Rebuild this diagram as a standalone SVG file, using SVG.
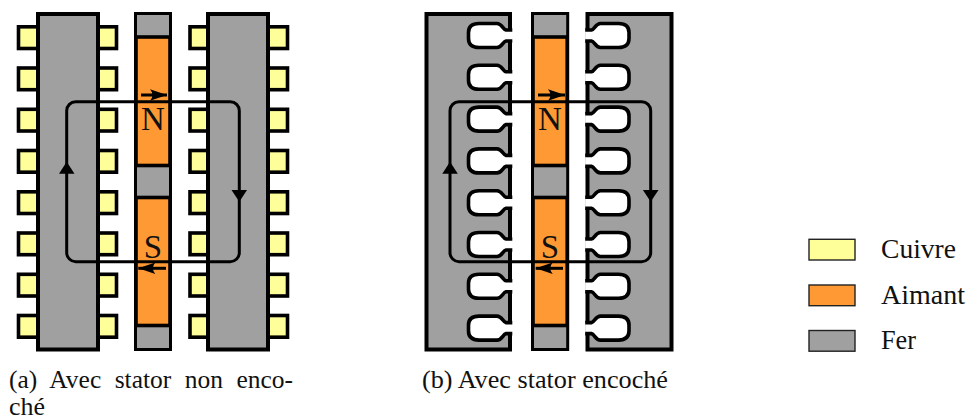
<svg xmlns="http://www.w3.org/2000/svg" xmlns:xlink="http://www.w3.org/1999/xlink" width="967" height="419" viewBox="0 0 967 419">
<style>
.iron{fill:#a0a0a0;stroke:#000;stroke-width:4}
.cu{fill:#ffff99;stroke:#000;stroke-width:3.6}
.mag{fill:#ff9933;stroke:#000;stroke-width:3.6}
.col{fill:#a0a0a0;stroke:#000;stroke-width:3}
.slot{fill:#fff;stroke:#000;stroke-width:3.6}
.loop{fill:none;stroke:#000;stroke-width:3}
.flux{fill:none;stroke:#000;stroke-width:3;marker-end:url(#st)}
.head{fill:#000}
.pole{font-family:"Liberation Serif",serif;font-size:33px;text-anchor:middle;fill:#111}
.cap{font-family:"Liberation Serif",serif;font-size:25px;fill:#111}
.leg{font-family:"Liberation Serif",serif;font-size:27px;fill:#111}
.sw{stroke:#222;stroke-width:1.4}
</style>
<defs>
<marker id="st" markerUnits="userSpaceOnUse" markerWidth="20" markerHeight="16" refX="17" refY="6" orient="auto" overflow="visible"><path d="M17 6 L0 0.2 Q5 6 0 11.8 Z" fill="#000"/></marker>
<rect id="tooth" width="19.5" height="21.7" x="0" y="0" class="cu"/>
<path id="sl" class="slot" d="M2.3 -5.5H-4C-7 -6 -8 -12 -13 -12H-31Q-41.5 -12 -41.5 -3V3Q-41.5 12 -31 12H-13C-8 12 -7 6 -4 5.5H2.3"/>
</defs>

<g id="panel-a">
<g id="a-copper">
<use href="#tooth" x="18.5" y="26.8"/><use href="#tooth" x="18.5" y="68"/><use href="#tooth" x="18.5" y="109.3"/><use href="#tooth" x="18.5" y="150.5"/><use href="#tooth" x="18.5" y="191.8"/><use href="#tooth" x="18.5" y="233"/><use href="#tooth" x="18.5" y="274.3"/><use href="#tooth" x="18.5" y="315.5"/>
<use href="#tooth" x="97" y="26.8"/><use href="#tooth" x="97" y="68"/><use href="#tooth" x="97" y="109.3"/><use href="#tooth" x="97" y="150.5"/><use href="#tooth" x="97" y="191.8"/><use href="#tooth" x="97" y="233"/><use href="#tooth" x="97" y="274.3"/><use href="#tooth" x="97" y="315.5"/>
<use href="#tooth" x="190" y="26.8"/><use href="#tooth" x="190" y="68"/><use href="#tooth" x="190" y="109.3"/><use href="#tooth" x="190" y="150.5"/><use href="#tooth" x="190" y="191.8"/><use href="#tooth" x="190" y="233"/><use href="#tooth" x="190" y="274.3"/><use href="#tooth" x="190" y="315.5"/>
<use href="#tooth" x="268" y="26.8"/><use href="#tooth" x="268" y="68"/><use href="#tooth" x="268" y="109.3"/><use href="#tooth" x="268" y="150.5"/><use href="#tooth" x="268" y="191.8"/><use href="#tooth" x="268" y="233"/><use href="#tooth" x="268" y="274.3"/><use href="#tooth" x="268" y="315.5"/>
</g>
<g id="a-iron-left"><rect class="iron" x="38" y="14" width="60" height="335.5"/></g>
<g id="a-iron-right"><rect class="iron" x="208" y="14" width="60" height="335.5"/></g>
<g id="a-rotor">
<rect class="col" x="135.5" y="13.5" width="35" height="336"/>
<rect class="mag" x="136" y="37" width="34" height="128.5"/>
<rect class="mag" x="136" y="197.5" width="34" height="128"/>
<text class="pole" x="153" y="129.5">N</text>
<text class="pole" x="153" y="257.5">S</text>
</g>
</g>

<g id="panel-b">
<g id="b-iron-left">
<rect class="iron" x="426.5" y="14" width="83.5" height="335.5"/>
<use href="#sl" x="510" y="35.5"/><use href="#sl" x="510" y="77.3"/><use href="#sl" x="510" y="119.1"/><use href="#sl" x="510" y="160.9"/><use href="#sl" x="510" y="202.7"/><use href="#sl" x="510" y="244.5"/><use href="#sl" x="510" y="286.3"/><use href="#sl" x="510" y="328.1"/>
</g>
<g id="b-iron-right">
<rect class="iron" x="587.5" y="14" width="84" height="335.5"/>
<use href="#sl" transform="translate(587.5 35.5) scale(-1 1)"/><use href="#sl" transform="translate(587.5 77.3) scale(-1 1)"/><use href="#sl" transform="translate(587.5 119.1) scale(-1 1)"/><use href="#sl" transform="translate(587.5 160.9) scale(-1 1)"/><use href="#sl" transform="translate(587.5 202.7) scale(-1 1)"/><use href="#sl" transform="translate(587.5 244.5) scale(-1 1)"/><use href="#sl" transform="translate(587.5 286.3) scale(-1 1)"/><use href="#sl" transform="translate(587.5 328.1) scale(-1 1)"/>
</g>
<g id="b-rotor">
<rect class="col" x="532.5" y="13.5" width="35.2" height="336"/>
<rect class="mag" x="533" y="37" width="34.2" height="128.5"/>
<rect class="mag" x="533" y="197.5" width="34.2" height="128"/>
<text class="pole" x="550" y="129.5">N</text>
<text class="pole" x="550" y="257.5">S</text>
</g>
</g>

<g id="connectors">
<rect class="loop" x="66.7" y="101.7" width="172.6" height="160" rx="9"/>
<path class="head" d="M66.7 161.7L74.5 173.7H59Z"/>
<path class="head" d="M239.3 201.7L231.5 190H247Z"/>
<line class="flux" x1="141" y1="95" x2="167" y2="95"/>
<line class="flux" x1="166" y1="268.3" x2="138.3" y2="268.3"/>
<rect class="loop" x="450" y="101.7" width="200.7" height="160" rx="9"/>
<path class="head" d="M450 161.7L457.8 173.7H442.3Z"/>
<path class="head" d="M650.7 201.7L642.9 190H658.5Z"/>
<line class="flux" x1="538" y1="95" x2="565" y2="95"/>
<line class="flux" x1="563" y1="268.3" x2="535.7" y2="268.3"/>
</g>

<g id="captions">
<text class="cap" x="9" y="388" style="word-spacing:7px" textLength="284" lengthAdjust="spacingAndGlyphs">(a) Avec stator non enco-</text>
<text class="cap" x="9" y="415" textLength="36" lengthAdjust="spacingAndGlyphs">ché</text>
<text class="cap" x="422" y="388" textLength="246" lengthAdjust="spacingAndGlyphs">(b) Avec stator encoché</text>
</g>

<g id="legend">
<g id="leg-cuivre"><rect class="sw" x="809" y="239.3" width="46" height="20.7" fill="#ffff99"/><text class="leg" x="881" y="258" textLength="75" lengthAdjust="spacingAndGlyphs">Cuivre</text></g>
<g id="leg-aimant"><rect class="sw" x="809" y="285" width="46" height="20.7" fill="#ff9933"/><text class="leg" x="881" y="304" textLength="84" lengthAdjust="spacingAndGlyphs">Aimant</text></g>
<g id="leg-fer"><rect class="sw" x="809" y="330.5" width="46" height="20.7" fill="#a0a0a0"/><text class="leg" x="881" y="349" textLength="35" lengthAdjust="spacingAndGlyphs">Fer</text></g>
</g>
</svg>
